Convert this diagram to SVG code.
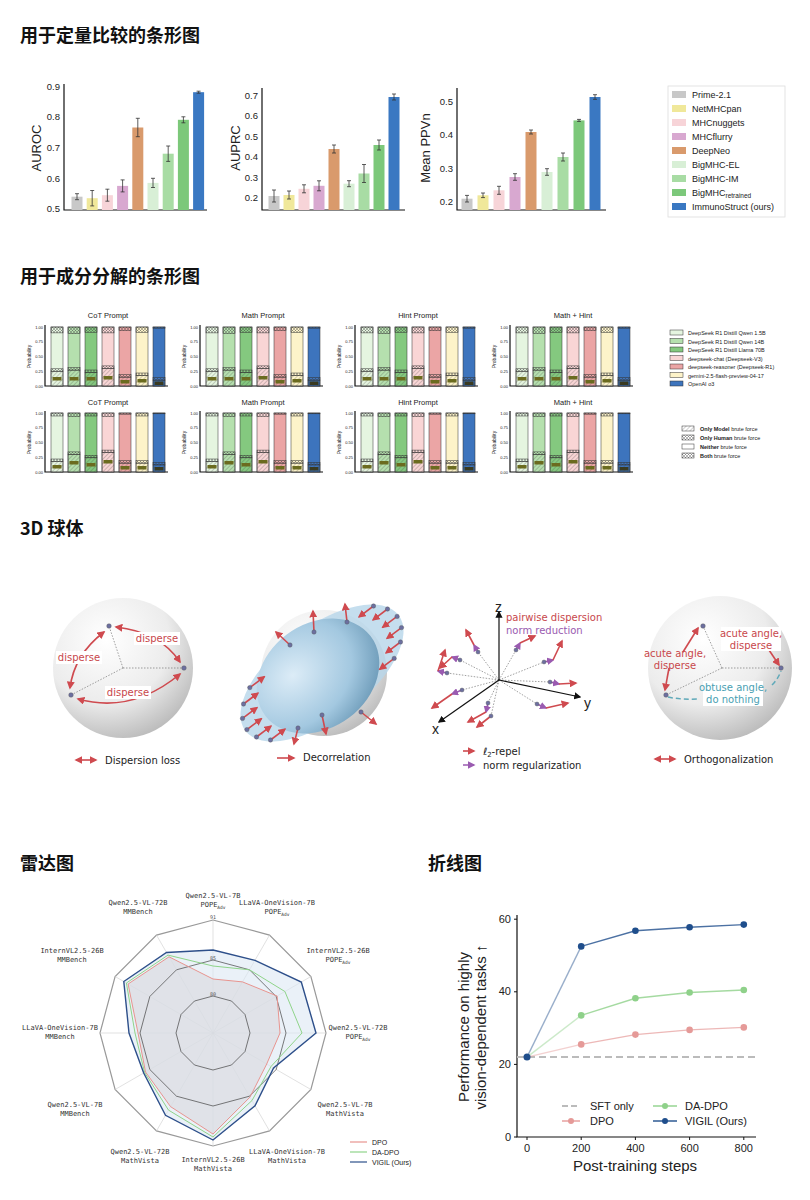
<svg xmlns="http://www.w3.org/2000/svg" width="810" height="1200" viewBox="0 0 810 1200">
<style>
text{font-family:"Liberation Sans",Arial,sans-serif;fill:#222}
.h{font-family:"Noto Sans CJK SC","Noto Sans",sans-serif;font-size:18px;font-weight:bold;fill:#111}
.ax{stroke:#111;stroke-width:1.2;fill:none}
.tk{font-size:9.5px;text-anchor:end}
.yl{font-size:13px;text-anchor:middle}
.eb{stroke:#333;stroke-width:0.8;fill:none}
.lg{font-size:9px}
.st{font-size:7.5px;text-anchor:middle}
.sk{font-size:4px;text-anchor:end}
.sl{font-size:5.5px}
.pl{stroke:#333;stroke-width:0.5}
.dj{font-family:"DejaVu Sans",sans-serif;font-size:10px}
.red{fill:#c8474b}
.ra{stroke:#cf4a4f;stroke-width:1.6;fill:none}
.pa{stroke:#9a5bb0;stroke-width:1.5;fill:none}
.dot{fill:#6c6fa0;stroke:#555;stroke-width:.4}
.dash{stroke:#777;stroke-width:.7;stroke-dasharray:1.5 1.5;fill:none}
.rm{font-family:"DejaVu Sans Mono",monospace;font-size:7px;text-anchor:middle;fill:#333}
.rt{font-family:"DejaVu Sans Mono",monospace;font-size:5px;text-anchor:middle;fill:#555}
.lc{font-size:11px}
</style>
<defs>
<radialGradient id="sph" cx="0.38" cy="0.3" r="0.75">
<stop offset="0" stop-color="#ffffff"/><stop offset="0.6" stop-color="#ececec"/><stop offset="1" stop-color="#b9b9b9"/>
</radialGradient>
<radialGradient id="blob" cx="0.35" cy="0.35" r="0.8">
<stop offset="0" stop-color="#dcecf7"/><stop offset="0.6" stop-color="#a3c8e0"/><stop offset="1" stop-color="#5f8fae"/>
</radialGradient>
<marker id="ar" viewBox="0 0 10 10" refX="8" refY="5" markerWidth="5" markerHeight="5" orient="auto-start-reverse"><path d="M0,0L10,5L0,10z" fill="#cf4a4f"/></marker>
<marker id="ap" viewBox="0 0 10 10" refX="8" refY="5" markerWidth="5" markerHeight="5" orient="auto"><path d="M0,0L10,5L0,10z" fill="#9a5bb0"/></marker>
<marker id="ak" viewBox="0 0 10 10" refX="8" refY="5" markerWidth="6" markerHeight="6" orient="auto"><path d="M0,0L10,5L0,10z" fill="#111"/></marker>
<pattern id="pm" width="3" height="3" patternUnits="userSpaceOnUse" patternTransform="rotate(45)"><line x1="0" y1="0" x2="0" y2="3" stroke="#444" stroke-width="0.5"/></pattern>
<pattern id="ph" width="3" height="3" patternUnits="userSpaceOnUse"><path d="M0,0L3,3M3,0L0,3" stroke="#444" stroke-width="0.4"/></pattern>
<g id="sax">
<path class="ax" d="M0,-61V0H123" stroke-width="0.8"/>
<text class="sk" x="-2" y="-57.5">1.00</text><text class="sk" x="-2" y="-42.8">0.75</text><text class="sk" x="-2" y="-28">0.50</text><text class="sk" x="-2" y="-13.3">0.25</text><text class="sk" x="-2" y="1.5">0.00</text>
<text x="-14" y="-29.5" font-size="5px" text-anchor="middle" transform="rotate(-90 -14 -29.5)">Probability</text>
</g>
<g id="r1">
<g transform="translate(6,0)"><rect y="-59" width="12" height="59" fill="#e5f5e0" class="pl"/><rect y="-14.8" width="12" height="14.8" fill="url(#pm)" class="pl"/><rect y="-17.2" width="12" height="2.4" fill="url(#ph)" class="pl"/><rect y="-59" width="12" height="5.9" fill="url(#ph)" class="pl"/><rect x="1.5" y="-9" width="9" height="3.5" fill="#6b6b1f"/></g>
<g transform="translate(23,0)"><rect y="-59" width="12" height="59" fill="#b5e0ae" class="pl"/><rect y="-15.9" width="12" height="15.9" fill="url(#pm)" class="pl"/><rect y="-18.3" width="12" height="2.4" fill="url(#ph)" class="pl"/><rect y="-59" width="12" height="6.5" fill="url(#ph)" class="pl"/><rect x="1.5" y="-9" width="9" height="3.5" fill="#6b6b1f"/></g>
<g transform="translate(40,0)"><rect y="-59" width="12" height="59" fill="#84c97f" class="pl"/><rect y="-13.6" width="12" height="13.6" fill="url(#pm)" class="pl"/><rect y="-16" width="12" height="2.4" fill="url(#ph)" class="pl"/><rect y="-59" width="12" height="5.3" fill="url(#ph)" class="pl"/><rect x="1.5" y="-9" width="9" height="3.5" fill="#6b6b1f"/></g>
<g transform="translate(57,0)"><rect y="-59" width="12" height="59" fill="#f9d5d5" class="pl"/><rect y="-17.7" width="12" height="17.7" fill="url(#pm)" class="pl"/><rect y="-20.1" width="12" height="2.4" fill="url(#ph)" class="pl"/><rect y="-59" width="12" height="5.9" fill="url(#ph)" class="pl"/><rect x="1.5" y="-10" width="9" height="3.5" fill="#6b6b1f"/></g>
<g transform="translate(74,0)"><rect y="-59" width="12" height="59" fill="#eba5a5" class="pl"/><rect y="-8.9" width="12" height="8.9" fill="url(#pm)" class="pl"/><rect y="-11.3" width="12" height="2.4" fill="url(#ph)" class="pl"/><rect y="-59" width="12" height="3.5" fill="url(#ph)" class="pl"/><rect x="1.5" y="-6" width="9" height="3.5" fill="#6b6b1f"/></g>
<g transform="translate(91,0)"><rect y="-59" width="12" height="59" fill="#fdf3c9" class="pl"/><rect y="-10.6" width="12" height="10.6" fill="url(#pm)" class="pl"/><rect y="-13" width="12" height="2.4" fill="url(#ph)" class="pl"/><rect y="-59" width="12" height="5.3" fill="url(#ph)" class="pl"/><rect x="1.5" y="-7" width="9" height="3.5" fill="#6b6b1f"/></g>
<g transform="translate(108,0)"><rect y="-59" width="12" height="59" fill="#3d74bd" class="pl"/><rect y="-5.9" width="12" height="5.9" fill="url(#pm)" class="pl"/><rect y="-8.3" width="12" height="2.4" fill="url(#ph)" class="pl"/><rect y="-59" width="12" height="1.2" fill="url(#ph)" class="pl"/><rect x="1.5" y="-4.5" width="9" height="3.5" fill="#3a3a20"/></g>
</g>
<g id="r2">
<g transform="translate(6,0)"><rect y="-59" width="12" height="59" fill="#e5f5e0" class="pl"/><rect y="-10.6" width="12" height="10.6" fill="url(#pm)" class="pl"/><rect y="-13" width="12" height="2.4" fill="url(#ph)" class="pl"/><rect y="-59" width="12" height="3" fill="url(#ph)" class="pl"/><rect x="1.5" y="-7" width="9" height="3.5" fill="#6b6b1f"/></g>
<g transform="translate(23,0)"><rect y="-59" width="12" height="59" fill="#b5e0ae" class="pl"/><rect y="-17.7" width="12" height="17.7" fill="url(#pm)" class="pl"/><rect y="-20.1" width="12" height="2.4" fill="url(#ph)" class="pl"/><rect y="-59" width="12" height="3.5" fill="url(#ph)" class="pl"/><rect x="1.5" y="-11" width="9" height="3.5" fill="#6b6b1f"/></g>
<g transform="translate(40,0)"><rect y="-59" width="12" height="59" fill="#84c97f" class="pl"/><rect y="-14.2" width="12" height="14.2" fill="url(#pm)" class="pl"/><rect y="-16.6" width="12" height="2.4" fill="url(#ph)" class="pl"/><rect y="-59" width="12" height="3" fill="url(#ph)" class="pl"/><rect x="1.5" y="-9" width="9" height="3.5" fill="#6b6b1f"/></g>
<g transform="translate(57,0)"><rect y="-59" width="12" height="59" fill="#f9d5d5" class="pl"/><rect y="-19.5" width="12" height="19.5" fill="url(#pm)" class="pl"/><rect y="-21.9" width="12" height="2.4" fill="url(#ph)" class="pl"/><rect y="-59" width="12" height="3.5" fill="url(#ph)" class="pl"/><rect x="1.5" y="-12" width="9" height="3.5" fill="#6b6b1f"/></g>
<g transform="translate(74,0)"><rect y="-59" width="12" height="59" fill="#eba5a5" class="pl"/><rect y="-8.9" width="12" height="8.9" fill="url(#pm)" class="pl"/><rect y="-11.3" width="12" height="2.4" fill="url(#ph)" class="pl"/><rect y="-59" width="12" height="1.2" fill="url(#ph)" class="pl"/><rect x="1.5" y="-6" width="9" height="3.5" fill="#6b6b1f"/></g>
<g transform="translate(91,0)"><rect y="-59" width="12" height="59" fill="#fdf3c9" class="pl"/><rect y="-8.9" width="12" height="8.9" fill="url(#pm)" class="pl"/><rect y="-11.3" width="12" height="2.4" fill="url(#ph)" class="pl"/><rect y="-59" width="12" height="3" fill="url(#ph)" class="pl"/><rect x="1.5" y="-6" width="9" height="3.5" fill="#6b6b1f"/></g>
<g transform="translate(108,0)"><rect y="-59" width="12" height="59" fill="#3d74bd" class="pl"/><rect y="-7.1" width="12" height="7.1" fill="url(#pm)" class="pl"/><rect y="-9.5" width="12" height="2.4" fill="url(#ph)" class="pl"/><rect y="-59" width="12" height="0.8" fill="url(#ph)" class="pl"/><rect x="1.5" y="-5" width="9" height="3.5" fill="#3a3a20"/></g>
</g>
</defs>
<rect width="810" height="1200" fill="#fff"/>

<text class="h" x="20" y="42">用于定量比较的条形图</text>
<text class="h" x="20" y="283">用于成分分解的条形图</text>
<text class="h" x="20" y="535">3D 球体</text>
<text class="h" x="20" y="870">雷达图</text>
<text class="h" x="428" y="870">折线图</text>

<g id="auroc">
<path class="ax" d="M64,84V210H207"/>
<text class="tk" x="60" y="212">0.5</text><text class="tk" x="60" y="181.5">0.6</text><text class="tk" x="60" y="150.7">0.7</text><text class="tk" x="60" y="120">0.8</text><text class="tk" x="60" y="89.5">0.9</text>
<text class="yl" x="41" y="148" transform="rotate(-90 41 148)">AUROC</text>
<rect x="71.5" y="196.7" width="11" height="13.3" fill="#c8c8c8"/>
<rect x="86.7" y="198.2" width="11" height="11.8" fill="#f0e89a"/>
<rect x="101.9" y="195.2" width="11" height="14.8" fill="#f7d4d8"/>
<rect x="117.1" y="185.9" width="11" height="24.1" fill="#d8a8d0"/>
<rect x="132.3" y="127.5" width="11" height="82.5" fill="#d99a6c"/>
<rect x="147.5" y="182.9" width="11" height="27.1" fill="#d8efd6"/>
<rect x="162.7" y="153.7" width="11" height="56.3" fill="#a8dca4"/>
<rect x="177.9" y="119.8" width="11" height="90.2" fill="#7cc87a"/>
<rect x="193.1" y="92.2" width="11" height="117.8" fill="#3a78c2"/>
<path class="eb" d="M77,193.7V199.7M75,193.7H79M75,199.7H79M92.2,190.5V205.9M90.2,190.5H94.2M90.2,205.9H94.2M107.4,189.2V201.2M105.4,189.2H109.4M105.4,201.2H109.4M122.6,179.9V191.9M120.6,179.9H124.6M120.6,191.9H124.6M137.8,118.3V136.7M135.8,118.3H139.8M135.8,136.7H139.8M153,178.3V187.5M151,178.3H155M151,187.5H155M168.2,146V161.4M166.2,146H170.2M166.2,161.4H170.2M183.4,116.8V122.8M181.4,116.8H185.4M181.4,122.8H185.4M198.6,91.2V93.2M196.6,91.2H200.6M196.6,93.2H200.6"/>
</g>

<g id="auprc">
<path class="ax" d="M262,88V210H405"/>
<text class="tk" x="258" y="201">0.2</text><text class="tk" x="258" y="180.6">0.3</text><text class="tk" x="258" y="160.2">0.4</text><text class="tk" x="258" y="139.8">0.5</text><text class="tk" x="258" y="119.4">0.6</text><text class="tk" x="258" y="99">0.7</text>
<text class="yl" x="240" y="148" transform="rotate(-90 240 148)">AUPRC</text>
<rect x="268.5" y="196" width="11" height="14" fill="#c8c8c8"/>
<rect x="283.5" y="195" width="11" height="15" fill="#f0e89a"/>
<rect x="298.5" y="188.8" width="11" height="21.2" fill="#f7d4d8"/>
<rect x="313.5" y="185.8" width="11" height="24.2" fill="#d8a8d0"/>
<rect x="328.5" y="149" width="11" height="61" fill="#d99a6c"/>
<rect x="343.5" y="183.7" width="11" height="26.3" fill="#d8efd6"/>
<rect x="358.5" y="173.5" width="11" height="36.5" fill="#a8dca4"/>
<rect x="373.5" y="145" width="11" height="65" fill="#7cc87a"/>
<rect x="388.5" y="97" width="11" height="113" fill="#3a78c2"/>
<path class="eb" d="M274,190V202M272,190H276M272,202H276M289,191V199M287,191H291M287,199H291M304,184.8V192.8M302,184.8H306M302,192.8H306M319,180.8V190.8M317,180.8H321M317,190.8H321M334,145V153M332,145H336M332,153H336M349,180.7V186.7M347,180.7H351M347,186.7H351M364,164.5V182.5M362,164.5H366M362,182.5H366M379,140V150M377,140H381M377,150H381M394,94V100M392,94H396M392,100H396"/>
</g>

<g id="ppvn">
<path class="ax" d="M457,88V210H606"/>
<text class="tk" x="453" y="205">0.2</text><text class="tk" x="453" y="171.7">0.3</text><text class="tk" x="453" y="138.4">0.4</text><text class="tk" x="453" y="105">0.5</text>
<text class="yl" x="430" y="148" transform="rotate(-90 430 148)">Mean PPVn</text>
<rect x="461.5" y="198.7" width="11" height="11.3" fill="#c8c8c8"/>
<rect x="477.5" y="195.3" width="11" height="14.7" fill="#f0e89a"/>
<rect x="493.5" y="190.3" width="11" height="19.7" fill="#f7d4d8"/>
<rect x="509.5" y="177" width="11" height="33" fill="#d8a8d0"/>
<rect x="525.5" y="132" width="11" height="78" fill="#d99a6c"/>
<rect x="541.5" y="172" width="11" height="38" fill="#d8efd6"/>
<rect x="557.5" y="157" width="11" height="53" fill="#a8dca4"/>
<rect x="573.5" y="120.4" width="11" height="89.6" fill="#7cc87a"/>
<rect x="589.5" y="97" width="11" height="113" fill="#3a78c2"/>
<path class="eb" d="M467,195.4V202M465,195.4H469M465,202H469M483,193V197.6M481,193H485M481,197.6H485M499,186.3V194.3M497,186.3H501M497,194.3H501M515,173.7V180.3M513,173.7H517M513,180.3H517M531,130V134M529,130H533M529,134H533M547,168.7V175.3M545,168.7H549M545,175.3H549M563,153V161M561,153H565M561,161H565M579,119.4V121.4M577,119.4H581M577,121.4H581M595,94.7V99.3M593,94.7H597M593,99.3H597"/>
</g>

<g id="legend1">
<rect x="668" y="86" width="117" height="131" fill="#fff" stroke="#ddd" stroke-width="0.8"/>
<rect x="672" y="91" width="14" height="7" fill="#c8c8c8"/><text class="lg" x="692" y="98">Prime-2.1</text>
<rect x="672" y="105" width="14" height="7" fill="#f0e89a"/><text class="lg" x="692" y="112">NetMHCpan</text>
<rect x="672" y="119" width="14" height="7" fill="#f7d4d8"/><text class="lg" x="692" y="126">MHCnuggets</text>
<rect x="672" y="133" width="14" height="7" fill="#d8a8d0"/><text class="lg" x="692" y="140">MHCflurry</text>
<rect x="672" y="147" width="14" height="7" fill="#d99a6c"/><text class="lg" x="692" y="154">DeepNeo</text>
<rect x="672" y="161" width="14" height="7" fill="#d8efd6"/><text class="lg" x="692" y="168">BigMHC-EL</text>
<rect x="672" y="175" width="14" height="7" fill="#a8dca4"/><text class="lg" x="692" y="182">BigMHC-IM</text>
<rect x="672" y="189" width="14" height="7" fill="#7cc87a"/><text class="lg" x="692" y="196">BigMHC<tspan font-size="6.5px" dy="2">retrained</tspan></text>
<rect x="672" y="203" width="14" height="7" fill="#3a78c2"/><text class="lg" x="692" y="210">ImmunoStruct (ours)</text>
</g>

<g id="p11"><use href="#sax" x="45" y="386"/><use href="#r1" x="45" y="386"/><text class="st" x="108" y="318">CoT Prompt</text></g>
<g id="p12"><use href="#sax" x="200" y="386"/><use href="#r1" x="200" y="386"/><text class="st" x="263" y="318">Math Prompt</text></g>
<g id="p13"><use href="#sax" x="355" y="386"/><use href="#r1" x="355" y="386"/><text class="st" x="418" y="318">Hint Prompt</text></g>
<g id="p14"><use href="#sax" x="510" y="386"/><use href="#r1" x="510" y="386"/><text class="st" x="573" y="318">Math + Hint</text></g>
<g id="p21"><use href="#sax" x="45" y="472"/><use href="#r2" x="45" y="472"/><text class="st" x="108" y="405">CoT Prompt</text></g>
<g id="p22"><use href="#sax" x="200" y="472"/><use href="#r2" x="200" y="472"/><text class="st" x="263" y="405">Math Prompt</text></g>
<g id="p23"><use href="#sax" x="355" y="472"/><use href="#r2" x="355" y="472"/><text class="st" x="418" y="405">Hint Prompt</text></g>
<g id="p24"><use href="#sax" x="510" y="472"/><use href="#r2" x="510" y="472"/><text class="st" x="573" y="405">Math + Hint</text></g>

<g id="legend2">
<rect x="670" y="330" width="13" height="5" fill="#e5f5e0" class="pl"/><text class="sl" x="688" y="335">DeepSeek R1 Distill Qwen 1.5B</text>
<rect x="670" y="338.5" width="13" height="5" fill="#b5e0ae" class="pl"/><text class="sl" x="688" y="343.5">DeepSeek R1 Distill Qwen 14B</text>
<rect x="670" y="347" width="13" height="5" fill="#84c97f" class="pl"/><text class="sl" x="688" y="352">DeepSeek R1 Distill Llama 70B</text>
<rect x="670" y="355.5" width="13" height="5" fill="#f9d5d5" class="pl"/><text class="sl" x="688" y="360.5">deepseek-chat (Deepseek-V3)</text>
<rect x="670" y="364" width="13" height="5" fill="#eba5a5" class="pl"/><text class="sl" x="688" y="369">deepseek-reasoner (Deepseek-R1)</text>
<rect x="670" y="372.5" width="13" height="5" fill="#fdf3c9" class="pl"/><text class="sl" x="688" y="377.5">gemini-2.5-flash-preview-04-17</text>
<rect x="670" y="381" width="13" height="5" fill="#3d74bd" class="pl"/><text class="sl" x="688" y="386">OpenAI o3</text>
</g>
<g id="legend3">
<rect x="682" y="426" width="12" height="5" fill="url(#pm)" class="pl"/><text class="sl" x="700" y="431"><tspan font-weight="bold">Only Model</tspan> brute force</text>
<rect x="682" y="435" width="12" height="5" fill="url(#ph)" class="pl"/><text class="sl" x="700" y="440"><tspan font-weight="bold">Only Human</tspan> brute force</text>
<rect x="682" y="444" width="12" height="5" fill="#fff" class="pl"/><text class="sl" x="700" y="449"><tspan font-weight="bold">Neither</tspan> brute force</text>
<rect x="682" y="453" width="12" height="5" fill="url(#ph)" class="pl"/><text class="sl" x="700" y="458"><tspan font-weight="bold">Both</tspan> brute force</text>
</g>

<g id="sphere1">
<circle cx="123" cy="668" r="70" fill="url(#sph)"/>
<path class="dash" d="M123,668L109,626M123,668L184,668M123,668L71,695"/>
<path class="ra" d="M116,627Q160,632 180,662" marker-start="url(#ar)" marker-end="url(#ar)"/>
<path class="ra" d="M104,632Q74,655 70,688" marker-start="url(#ar)" marker-end="url(#ar)"/>
<path class="ra" d="M78,699Q132,714 180,674" marker-start="url(#ar)" marker-end="url(#ar)"/>
<circle class="dot" cx="109" cy="626" r="2.3"/><circle class="dot" cx="184" cy="668" r="2.3"/><circle class="dot" cx="71" cy="695" r="2.3"/>
<rect x="134" y="632" width="46" height="13" fill="#fff"/><text class="dj red" x="157" y="642" text-anchor="middle">disperse</text>
<rect x="56" y="651" width="46" height="13" fill="#fff"/><text class="dj red" x="79" y="661" text-anchor="middle">disperse</text>
<rect x="105" y="686" width="46" height="13" fill="#fff"/><text class="dj red" x="128" y="696" text-anchor="middle">disperse</text>
<path class="ra" d="M76,760H96" stroke-width="1" marker-start="url(#ar)" marker-end="url(#ar)"/>
<text class="dj" x="105" y="764">Dispersion loss</text>
</g>

<g id="sphere2">
<circle cx="324" cy="673" r="63" fill="url(#sph)"/>
<ellipse cx="322" cy="673" rx="96" ry="46" transform="rotate(-37 322 673)" fill="#b7d6ea" opacity="0.8"/>
<ellipse cx="318" cy="676" rx="66" ry="52" transform="rotate(-37 318 676)" fill="url(#blob)"/>
<g class="ra" marker-end="url(#ar)">
<path d="M246.9,729.6L261.3,718.8"/><path d="M256.5,737L270.9,726.2"/><path d="M242.5,718.4L256.9,707.6"/><path d="M243.5,704L257.9,693.2"/><path d="M270.5,740L284.9,729.2"/><path d="M249.8,687.6L264.2,676.8"/>
<path d="M397.1,616.4L382.7,627.2"/><path d="M401.5,627.6L387.1,638.4"/><path d="M387.5,609L373.1,619.8"/><path d="M400.5,642L386.1,652.8"/><path d="M373.5,606L359.1,616.8"/><path d="M394.2,658.4L379.8,669.2"/>
<path d="M314,632L313,611"/><path d="M347,622L345,604"/><path d="M290,645L276,632"/><path d="M298,728L294,744"/><path d="M322,715L326,734"/><path d="M361,712L376,724"/>
</g>
<g class="dot">
<circle cx="246.9" cy="729.6" r="2.2"/><circle cx="256.5" cy="737" r="2.2"/><circle cx="242.5" cy="718.4" r="2.2"/><circle cx="243.5" cy="704" r="2.2"/><circle cx="270.5" cy="740" r="2.2"/><circle cx="249.8" cy="687.6" r="2.2"/>
<circle cx="397.1" cy="616.4" r="2.2"/><circle cx="401.5" cy="627.6" r="2.2"/><circle cx="387.5" cy="609" r="2.2"/><circle cx="400.5" cy="642" r="2.2"/><circle cx="373.5" cy="606" r="2.2"/><circle cx="394.2" cy="658.4" r="2.2"/>
<circle cx="314" cy="632" r="2.2"/><circle cx="347" cy="622" r="2.2"/><circle cx="290" cy="645" r="2.2"/><circle cx="298" cy="728" r="2.2"/><circle cx="322" cy="715" r="2.2"/><circle cx="361" cy="712" r="2.2"/>
</g>
<path class="ra" d="M277,758H294" stroke-width="1" marker-end="url(#ar)"/>
<text class="dj" x="303" y="761">Decorrelation</text>
</g>

<g id="axes3d">
<path class="dash" d="M499,680L478,652M499,680L516,650M499,680L544,662M499,680L550,682M499,680L537,704M499,680L488,703M499,680L462,690M499,680L447,673M499,680L491,716M499,680L460,660"/>
<g stroke="#111" stroke-width="1.2" fill="none" marker-end="url(#ak)">
<path d="M499,680V612"/><path d="M499,680L580,697"/><path d="M499,680L439,722"/>
</g>
<g class="pa" marker-end="url(#ap)">
<path d="M478,652L474,645"/><path d="M516,650L520,643"/><path d="M544,662L553,660"/><path d="M550,682L559,684"/><path d="M537,704L546,708"/><path d="M488,703L486,712"/><path d="M462,690L452,694"/><path d="M447,673L438,671"/><path d="M460,660L452,657"/>
</g>
<g class="ra" marker-end="url(#ar)">
<path d="M474,645L466,630"/><path d="M520,643L535,636"/><path d="M553,660L562,641"/><path d="M559,684L576,683"/><path d="M546,708L568,703"/><path d="M486,712L468,722"/><path d="M452,694L432,708"/><path d="M438,671L445,650"/><path d="M491,716L477,727"/><path d="M452,657L440,668"/>
</g>
<g class="dot">
<circle cx="478" cy="652" r="2"/><circle cx="516" cy="650" r="2"/><circle cx="544" cy="662" r="2"/><circle cx="550" cy="682" r="2"/><circle cx="537" cy="704" r="2"/><circle cx="488" cy="703" r="2"/><circle cx="462" cy="690" r="2"/><circle cx="447" cy="673" r="2"/><circle cx="491" cy="716" r="2"/><circle cx="460" cy="660" r="2"/>
</g>
<text x="495" y="612" font-size="14px" font-family="DejaVu Sans, sans-serif">z</text>
<text x="584" y="708" font-size="14px" font-family="DejaVu Sans, sans-serif">y</text>
<text x="432" y="734" font-size="14px" font-family="DejaVu Sans, sans-serif">x</text>
<text class="dj red" x="506" y="621">pairwise dispersion</text>
<text class="dj" x="506" y="634" style="fill:#9a5bb0">norm reduction</text>
<path class="ra" d="M463,751H474" stroke-width="1" marker-end="url(#ar)"/>
<text class="dj" x="483" y="755"><tspan font-style="italic">ℓ</tspan><tspan font-size="7px" dy="2">2</tspan><tspan dy="-2">-repel</tspan></text>
<path class="pa" d="M463,765H474" stroke-width="1" marker-end="url(#ap)"/>
<text class="dj" x="483" y="769">norm regularization</text>
</g>

<g id="sphere4">
<circle cx="720" cy="668" r="72" fill="url(#sph)"/>
<path class="dash" d="M722,668L703,626M722,668L781,668M722,668L666,695"/>
<path d="M668,697Q682,700 698,699M772,685Q778,679 781,671" stroke="#5fa9b9" stroke-width="1.5" stroke-dasharray="5 3" fill="none"/>
<g class="ra" marker-end="url(#ar)">
<path d="M683,652L698,628"/><path d="M669,668L665,690"/><path d="M769,650L779,665"/>
</g>
<circle class="dot" cx="703" cy="626" r="2.3"/><circle class="dot" cx="781" cy="668" r="2.3"/><circle class="dot" cx="666" cy="695" r="2.3"/>
<rect x="721" y="627" width="60" height="24" fill="#fff"/>
<text class="dj red" x="751" y="637" text-anchor="middle">acute angle,</text><text class="dj red" x="751" y="649" text-anchor="middle">disperse</text>
<text class="dj red" x="675" y="657" text-anchor="middle">acute angle,</text><text class="dj red" x="675" y="669" text-anchor="middle">disperse</text>
<rect x="703" y="681" width="60" height="25" fill="#fff"/>
<text class="dj" x="733" y="691" text-anchor="middle" style="fill:#4a9fb3">obtuse angle,</text><text class="dj" x="733" y="703" text-anchor="middle" style="fill:#4a9fb3">do nothing</text>
<path class="ra" d="M655,759H675" stroke-width="1" marker-start="url(#ar)" marker-end="url(#ar)"/>
<text class="dj" x="684" y="763">Orthogonalization</text>
</g>

<g id="radar">
<polygon points="213,920 269.5,935.1 310.9,976.5 326,1033 310.9,1089.5 269.5,1130.9 213,1146 156.5,1130.9 115.1,1089.5 100,1033 115.1,976.5 156.5,935.1" fill="none" stroke="#999" stroke-width="1.2"/>
<path d="M213,1033L213,920M213,1033L269.5,935.1M213,1033L310.9,976.5M213,1033L326,1033M213,1033L310.9,1089.5M213,1033L269.5,1130.9M213,1033L213,1146M213,1033L156.5,1130.9M213,1033L115.1,1089.5M213,1033L100,1033M213,1033L115.1,976.5M213,1033L156.5,935.1" stroke="#ccc" stroke-width="0.6"/>
<polygon points="213,950 255,960.3 301.3,982 316,1033 273.6,1068 255,1105.7 213,1140 165.5,1115.3 143.7,1073 129,1033 123.8,981.5 166.5,952.5" fill="#dce8f4" fill-opacity="0.6" stroke="none"/>
<polygon points="213,979 242.5,981.9 277.1,996 280,1033 266.7,1064 250,1097.1 213,1134 170.5,1106.6 145.5,1072 138,1033 128.1,984 169,956.8" fill="#d8d8de" fill-opacity="0.6" stroke="none"/>
<polygon points="213,960 249.5,969.8 276.2,996.5 286,1033 276.2,1069.5 249.5,1096.2 213,1106 176.5,1096.2 149.8,1069.5 140,1033 149.8,996.5 176.5,969.8" fill="none" stroke="#444" stroke-width="0.7"/>
<polygon points="213,996 231.5,1001 245,1014.5 250,1033 245,1051.5 231.5,1065 213,1070 194.5,1065 181,1051.5 176,1033 181,1014.5 194.5,1001" fill="none" stroke="#444" stroke-width="0.7"/>
<polygon points="213,979 242.5,981.9 277.1,996 280,1033 266.7,1064 250,1097.1 213,1134 170.5,1106.6 145.5,1072 138,1033 128.1,984 169,956.8" fill="none" stroke="#e8948f" stroke-width="1"/>
<polygon points="213,966 249.5,969.8 284.9,991.5 302,1033 271,1066.5 252,1100.5 213,1137 168.5,1110.1 144.6,1072.5 135,1033 126.4,983 168,955.1" fill="none" stroke="#8fd48a" stroke-width="1"/>
<polygon points="213,950 255,960.3 301.3,982 316,1033 273.6,1068 255,1105.7 213,1140 165.5,1115.3 143.7,1073 129,1033 123.8,981.5 166.5,952.5" fill="none" stroke="#2d4f8a" stroke-width="1.4"/>
<text class="rt" x="213" y="919">91</text><text class="rt" x="213" y="960">85</text><text class="rt" x="213" y="996">80</text>
<text class="rm" x="213" y="898">Qwen2.5-VL-7B</text><text class="rm" x="213" y="907">POPE<tspan font-size="4.5px" dy="1.5">Adv</tspan></text>
<text class="rm" x="277" y="905">LLaVA-OneVision-7B</text><text class="rm" x="277" y="914">POPE<tspan font-size="4.5px" dy="1.5">Adv</tspan></text>
<text class="rm" x="338" y="953">InternVL2.5-26B</text><text class="rm" x="338" y="962">POPE<tspan font-size="4.5px" dy="1.5">Adv</tspan></text>
<text class="rm" x="358" y="1030">Qwen2.5-VL-72B</text><text class="rm" x="358" y="1039">POPE<tspan font-size="4.5px" dy="1.5">Adv</tspan></text>
<text class="rm" x="345" y="1107">Qwen2.5-VL-7B</text><text class="rm" x="345" y="1116">MathVista</text>
<text class="rm" x="287" y="1154">LLaVA-OneVision-7B</text><text class="rm" x="287" y="1163">MathVista</text>
<text class="rm" x="213" y="1162">InternVL2.5-26B</text><text class="rm" x="213" y="1171">MathVista</text>
<text class="rm" x="140" y="1154">Qwen2.5-VL-72B</text><text class="rm" x="140" y="1163">MathVista</text>
<text class="rm" x="75" y="1107">Qwen2.5-VL-7B</text><text class="rm" x="75" y="1116">MMBench</text>
<text class="rm" x="60" y="1030">LLaVA-OneVision-7B</text><text class="rm" x="60" y="1039">MMBench</text>
<text class="rm" x="72" y="953">InternVL2.5-26B</text><text class="rm" x="72" y="962">MMBench</text>
<text class="rm" x="138" y="905">Qwen2.5-VL-72B</text><text class="rm" x="138" y="914">MMBench</text>
<path d="M350,1142H367" stroke="#e8948f" stroke-width="1.2"/><text x="372" y="1145" font-size="7px">DPO</text>
<path d="M350,1152H367" stroke="#8fd48a" stroke-width="1.2"/><text x="372" y="1155" font-size="7px">DA-DPO</text>
<path d="M350,1162H367" stroke="#2d4f8a" stroke-width="1.2"/><text x="372" y="1165" font-size="7px">VIGIL (Ours)</text>
</g>

<g id="linechart">
<path class="ax" d="M517,915V1137H756"/>
<path d="M514,1137H517M514,1064.4H517M514,991.8H517M514,919.2H517M527,1137V1140M581.2,1137V1140M635.4,1137V1140M689.6,1137V1140M743.8,1137V1140" stroke="#111" stroke-width="1"/>
<text class="lc" x="511" y="1141" text-anchor="end">0</text><text class="lc" x="511" y="1068" text-anchor="end">20</text><text class="lc" x="511" y="995" text-anchor="end">40</text><text class="lc" x="511" y="923" text-anchor="end">60</text>
<text class="lc" x="527" y="1152" text-anchor="middle">0</text><text class="lc" x="581.2" y="1152" text-anchor="middle">200</text><text class="lc" x="635.4" y="1152" text-anchor="middle">400</text><text class="lc" x="689.6" y="1152" text-anchor="middle">600</text><text class="lc" x="743.8" y="1152" text-anchor="middle">800</text>
<text x="635" y="1171" font-size="15px" text-anchor="middle">Post-training steps</text>
<text x="469" y="1027" font-size="15px" text-anchor="middle" transform="rotate(-90 469 1027)">Performance on highly</text>
<text x="486" y="1027" font-size="15px" text-anchor="middle" transform="rotate(-90 486 1027)">vision-dependent tasks ↑</text>
<path d="M517,1057.1H756" stroke="#bbb" stroke-width="2" stroke-dasharray="7 4"/>
<path d="M527,1057.1L581.2,1044.4" stroke="#e59a98" stroke-width="1.4" opacity="0.45"/>
<path d="M581.2,1044.4L635.4,1034.6L689.6,1029.9L743.8,1027.4" stroke="#e59a98" stroke-width="1.4" fill="none" opacity="0.7"/>
<path d="M527,1057.1L581.2,1015.4" stroke="#8fd18a" stroke-width="1.4" opacity="0.45"/>
<path d="M581.2,1015.4L635.4,998.3L689.6,992.5L743.8,990" stroke="#8fd18a" stroke-width="1.4" fill="none" opacity="0.8"/>
<path d="M527,1057.1L581.2,946.4" stroke="#1f4e8c" stroke-width="1.4" opacity="0.45"/>
<path d="M581.2,946.4L635.4,930.8L689.6,927.2L743.8,924.6" stroke="#1f4e8c" stroke-width="1.4" fill="none" opacity="0.8"/>
<g fill="#e59a98"><circle cx="581.2" cy="1044.4" r="3.3"/><circle cx="635.4" cy="1034.6" r="3.3"/><circle cx="689.6" cy="1029.9" r="3.3"/><circle cx="743.8" cy="1027.4" r="3.3"/></g>
<g fill="#8fd18a"><circle cx="581.2" cy="1015.4" r="3.3"/><circle cx="635.4" cy="998.3" r="3.3"/><circle cx="689.6" cy="992.5" r="3.3"/><circle cx="743.8" cy="990" r="3.3"/></g>
<g fill="#1f4e8c"><circle cx="527" cy="1057.1" r="3.5"/><circle cx="581.2" cy="946.4" r="3.3"/><circle cx="635.4" cy="930.8" r="3.3"/><circle cx="689.6" cy="927.2" r="3.3"/><circle cx="743.8" cy="924.6" r="3.3"/></g>
<path d="M562,1106H580" stroke="#bbb" stroke-width="2" stroke-dasharray="6 3"/><text class="lc" x="590" y="1110">SFT only</text>
<path d="M562,1121H580" stroke="#e59a98" stroke-width="1.4"/><circle cx="571" cy="1121" r="3" fill="#e59a98"/><text class="lc" x="590" y="1125">DPO</text>
<path d="M653,1106H677" stroke="#8fd18a" stroke-width="1.4"/><circle cx="665" cy="1106" r="3" fill="#8fd18a"/><text class="lc" x="685" y="1110">DA-DPO</text>
<path d="M653,1121H677" stroke="#1f4e8c" stroke-width="1.4"/><circle cx="665" cy="1121" r="3" fill="#1f4e8c"/><text class="lc" x="685" y="1125">VIGIL (Ours)</text>
</g>
</svg>
